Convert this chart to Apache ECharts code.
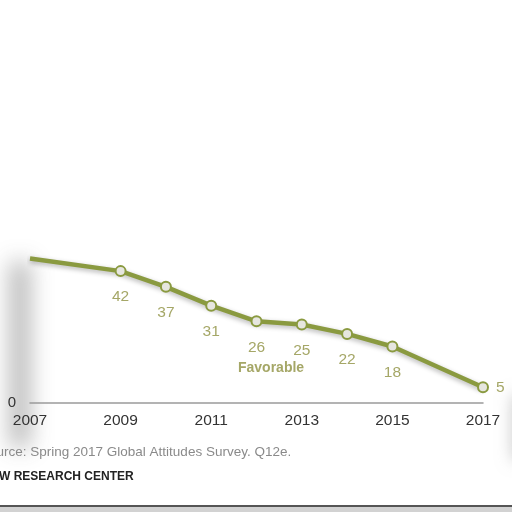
<!DOCTYPE html>
<html><head><meta charset="utf-8">
<script src="https://cdn.jsdelivr.net/npm/echarts@6/dist/echarts.min.js"></script>
<style>html,body{margin:0;padding:0;background:#fff}#c{width:512px;height:512px}</style>
</head><body><div id="c"></div>
<script>
var years = ['2007','2008','2009','2010','2011','2012','2013','2014','2015','2016','2017'];
var favorable = [46, null, 42, 37, 31, 26, 25, 22, 18, null, 5];
var yTicks = [0];
var seriesName = 'Favorable';
var sourceText = 'Source: Spring 2017 Global Attitudes Survey. Q12e.';
var creditText = 'PEW RESEARCH CENTER';

var olive = '#8a9a40';
var labelOlive = '#a5a767';
var font = '"Liberation Sans", Arial, sans-serif';

var seriesData = favorable.map(function (v, i) {
  if (i === 0) return { value: v, symbol: 'none', label: { show: false } };
  if (i === favorable.length - 1) return { value: v, label: { position: 'right', distance: 7 } };
  return v;
});

var chart = echarts.init(document.getElementById('c'));
chart.setOption({
  animation: false,
  backgroundColor: '#ffffff',
  grid: { left: 30, right: 29, top: 89, bottom: 109 },
  xAxis: {
    type: 'category', data: years, boundaryGap: false,
    axisLine: { show: true, lineStyle: { color: '#9a9a9a', width: 1.5 } },
    axisTick: { show: false },
    axisLabel: { interval: 1, color: '#333333', fontSize: 15.5, fontFamily: font, margin: 10 },
    splitLine: { show: false }
  },
  yAxis: {
    type: 'value', min: 0, max: 100, interval: 100,
    axisLine: { show: false }, axisTick: { show: false }, splitLine: { show: false },
    axisLabel: {
      color: '#333333', fontSize: 15, fontFamily: font, margin: 14,
      formatter: function (v) { return yTicks.indexOf(v) >= 0 ? String(v) : ''; }
    }
  },
  series: [{
    name: seriesName, type: 'line', data: seriesData, connectNulls: true,
    symbol: 'circle', symbolSize: 10, showSymbol: true, z: 3,
    lineStyle: { color: olive, width: 4.5, shadowColor: 'rgba(0,0,0,0.3)', shadowBlur: 5, shadowOffsetY: 2 },
    itemStyle: { color: '#e6e6df', borderColor: olive, borderWidth: 2 },
    label: { show: true, position: 'bottom', distance: 12, color: labelOlive, fontSize: 15.5, fontFamily: font }
  }],
  graphic: [
    { type: 'rect', z: 0, shape: { x: -400, y: 262, width: 20, height: 185 },
      style: { fill: '#bbbbbb', shadowColor: 'rgba(175,175,175,0.9)', shadowBlur: 22, shadowOffsetX: 410 } },
    { type: 'rect', z: 0, shape: { x: -400, y: 395, width: 14, height: 65 },
      style: { fill: '#bbbbbb', shadowColor: 'rgba(180,180,180,0.7)', shadowBlur: 16, shadowOffsetX: 912 } },
    { type: 'text', left: 238, top: 361, style: { text: seriesName, fill: labelOlive, font: 'bold 14px ' + font } },
    { type: 'text', left: -20, top: 445, style: { text: sourceText, fill: '#8a8a8a', font: '13.5px ' + font } },
    { type: 'text', left: -17, top: 471, style: { text: creditText, fill: '#222222', font: 'bold 12px ' + font } },
    { type: 'rect', shape: { x: 0, y: 505, width: 512, height: 2 }, style: { fill: '#555555' } },
    { type: 'rect', shape: { x: 0, y: 507, width: 512, height: 5 }, style: { fill: '#d2d2d2' } }
  ]
});
</script></body></html>
